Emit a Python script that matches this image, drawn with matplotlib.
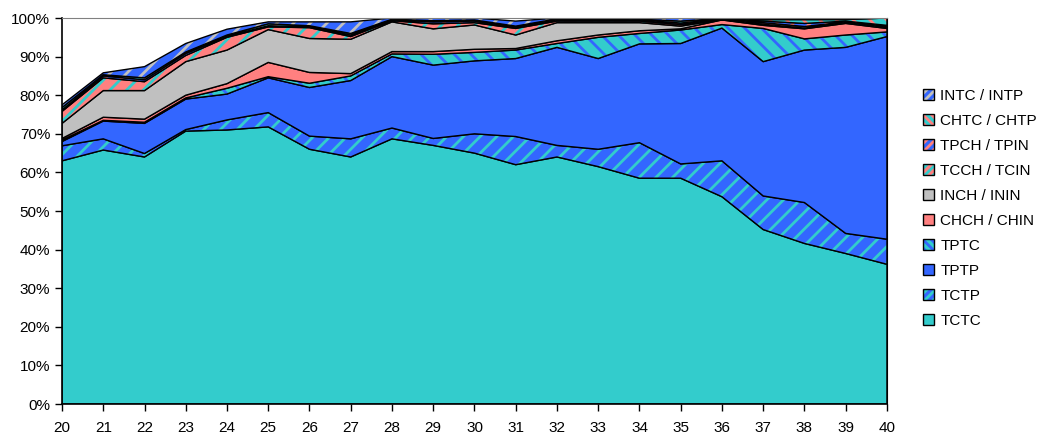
import numpy as np
import matplotlib
matplotlib.use("Agg")
import matplotlib.pyplot as plt
from matplotlib.patches import Patch
from matplotlib.legend_handler import HandlerTuple

plt.rcParams['font.family'] = ['Liberation Sans', 'DejaVu Sans']
plt.rcParams['hatch.linewidth'] = 2.0

# años / edad
years = list(range(20, 41))

# participación de cada transición (%)
tctc = [63.0, 65.8, 64.0, 70.7, 71.0, 71.8, 66.0, 64.0, 68.7, 67.0, 65.0,
        62.0, 64.0, 61.5, 58.5, 58.5, 53.7, 45.2, 41.6, 39.0, 36.2]
tctp = [3.9, 2.9, 0.9, 0.4, 2.6, 3.7, 3.4, 4.7, 2.8, 1.8, 5.0,
        7.3, 3.0, 4.5, 9.2, 3.7, 9.3, 8.7, 10.6, 5.2, 6.5]
tptp = [1.1, 4.6, 7.8, 7.9, 6.7, 9.0, 12.6, 15.1, 18.5, 19.0, 18.9,
        20.2, 25.4, 23.5, 25.6, 31.2, 34.4, 34.8, 39.5, 48.2, 52.5]
tptc = [0.4, 0.2, 0.3, 0.3, 1.5, 0.3, 1.1, 1.2, 0.7, 2.8, 2.2,
        2.2, 1.0, 5.5, 2.7, 3.5, 0.9, 8.6, 2.9, 3.2, 1.2]
chch = [0.4, 0.8, 0.8, 0.7, 1.2, 3.7, 2.8, 0.6, 0.6, 0.7, 0.8,
        0.4, 0.7, 0.6, 0.7, 0.3, 1.2, 0.8, 2.6, 3.0, 0.9]
inch = [3.9, 6.9, 7.4, 8.7, 8.7, 8.5, 8.8, 8.9, 7.7, 5.9, 6.3,
        3.5, 4.7, 3.2, 2.1, 0.7, 0.1, 0.3, 0.2, 0.2, 0.2]
tcch = [3.1, 3.3, 2.3, 1.6, 3.3, 0.7, 2.8, 0.7, 0.3, 1.3, 0.6,
        1.7, 0.4, 0.4, 0.4, 0.4, 0.1, 0.4, 0.4, 0.2, 0.3]
tpch = [0.4, 0.5, 0.5, 0.5, 0.3, 0.3, 0.2, 0.4, 0.2, 0.5, 0.4,
        0.3, 0.3, 0.3, 0.3, 0.4, 0.1, 0.4, 0.8, 0.2, 0.3]
chtc = [0.6, 0.3, 0.5, 0.4, 0.3, 0.5, 0.3, 0.4, 0.2, 0.3, 0.3,
        0.3, 0.3, 0.3, 0.2, 0.5, 0.1, 0.4, 1.0, 0.4, 1.9]
intc = [0.7, 0.5, 2.9, 2.2, 1.5, 0.5, 1.0, 3.0, 0.3, 0.7, 0.5,
        1.3, 0.2, 0.2, 0.3, 0.8, 0.1, 0.4, 0.4, 0.4, 0.0]

etiquetas = ['TCTC', 'TCTP', 'TPTP', 'TPTC', 'CHCH / CHIN', 'INCH / ININ',
             'TCCH / TCIN', 'TPCH / TPIN', 'CHTC / CHTP', 'INTC / INTP']
series = [tctc, tctp, tptp, tptc, chch, inch, tcch, tpch, chtc, intc]

azul = '#3366FF'
turquesa = '#33CCCC'
salmon = '#FF8080'
gris = '#C0C0C0'

# (color de fondo, color de rayas, trama)
estilos = [
    (turquesa, None, None),
    (azul, turquesa, '//'),
    (azul, None, None),
    (turquesa, azul, '\\\\'),
    (salmon, None, None),
    (gris, None, None),
    (salmon, turquesa, '//'),
    (azul, salmon, '//'),
    (turquesa, salmon, '\\\\'),
    (azul, gris, '//'),
]

fig = plt.figure(figsize=(10.37, 4.34), dpi=100)
ax = fig.add_axes([0.0598, 0.0691, 0.7955, 0.8894])

acumulado = np.cumsum(np.array(series), axis=0)
base = np.zeros(len(years))
handles = []
for i, (fondo, raya, trama) in enumerate(estilos):
    techo = acumulado[i]
    if trama:
        ax.fill_between(years, base, techo, facecolor=fondo, edgecolor=raya,
                        hatch=trama, linewidth=0)
        # trama más fina para que se vea en el cuadrito de la leyenda
        h1 = Patch(facecolor=fondo, edgecolor=raya, hatch=trama * 2, linewidth=0)
    else:
        ax.fill_between(years, base, techo, facecolor=fondo, linewidth=0)
        h1 = Patch(facecolor=fondo, linewidth=0)
    ax.fill_between(years, base, techo, facecolor='none', edgecolor='black',
                    linewidth=1.0)
    h2 = Patch(facecolor='none', edgecolor='black', linewidth=1.0)
    handles.append((h1, h2))
    base = techo

ax.set_xlim(20, 40)
ax.set_ylim(0, 100)
ax.set_xticks(years)
ax.set_yticks(range(0, 101, 10))
ax.set_yticklabels([f'{v}%' for v in range(0, 101, 10)])
ax.tick_params(axis='both', labelsize=11, length=5, width=1, color='black',
               direction='out')
ax.tick_params(axis='x', pad=7)

for lado in ['left', 'bottom']:
    ax.spines[lado].set_color('black')
    ax.spines[lado].set_linewidth(1.2)
ax.spines['top'].set_color('#808080')
ax.spines['right'].set_color('black')

fig.legend(handles[::-1], etiquetas[::-1], loc='center left',
           bbox_to_anchor=(0.877, 0.52), frameon=False, fontsize=11,
           handler_map={tuple: HandlerTuple(ndivide=1, pad=0)},
           handlelength=0.72, handleheight=0.72, handletextpad=0.4,
           labelspacing=0.72)

fig.savefig('out.png', dpi=100)
